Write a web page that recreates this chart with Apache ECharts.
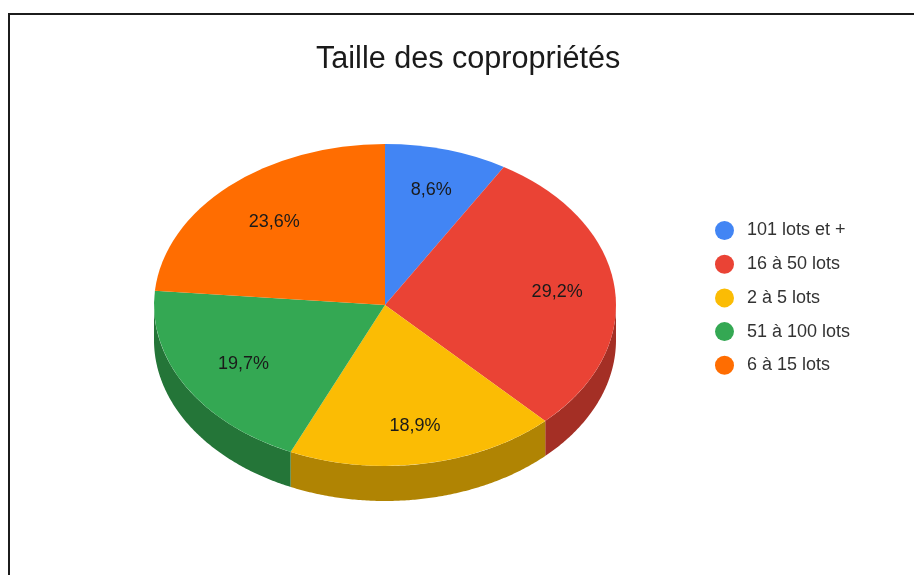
<!DOCTYPE html>
<html>
<head>
<meta charset="utf-8">
<title>Taille des copropriétés</title>
<script src="https://cdn.jsdelivr.net/npm/echarts@6/dist/echarts.min.js"></script>
<style>
  html, body { margin: 0; padding: 0; background: #fff; }
  #chart { width: 914px; height: 575px; }
</style>
</head>
<body>
<div id="chart"></div>
<script>
const categories = ['101 lots et +', '16 à 50 lots', '2 à 5 lots', '51 à 100 lots', '6 à 15 lots']
const shares = [8.6, 29.2, 18.9, 19.7, 23.6]
const topColors = ['#4285F4', '#EA4335', '#FBBC04', '#34A853', '#FF6D01']
const sideColors = ['#2e5dab', '#a42f25', '#b08403', '#247538', '#b34c01']

// pie drawn as a tilted disc: ellipse on top, wall below
const cx = 385
const cy = 305
const rx = 231
const ry = 161
const depth = 35
const labelRadius = [0.75, 0.75, 0.755, 0.71, 0.71]
const total = shares.reduce((a, b) => a + b, 0)

const toAngle = v => (v / total) * 360
const rad = d => (d * Math.PI) / 180
const rimPoint = (deg, drop) => [cx + rx * Math.sin(rad(deg)), cy + drop - ry * Math.cos(rad(deg))]

function renderSlice(params, api) {
  const i = params.seriesIndex
  const start = toAngle(shares.slice(0, i).reduce((a, b) => a + b, 0))
  const end = start + toAngle(api.value(0))
  const children = []

  // wall only shows on the front half of the disc
  const wallFrom = Math.max(start, 90)
  const wallTo = Math.min(end, 270)
  if (wallTo > wallFrom) {
    const upper = []
    const lower = []
    for (let d = wallFrom; d < wallTo; d += 0.5) {
      upper.push(rimPoint(d, 0))
      lower.unshift(rimPoint(d, depth))
    }
    upper.push(rimPoint(wallTo, 0))
    lower.unshift(rimPoint(wallTo, depth))
    children.push({
      type: 'polygon',
      shape: { points: upper.concat(lower) },
      style: { fill: sideColors[i] }
    })
  }

  children.push({
    type: 'sector',
    x: cx,
    y: cy,
    scaleY: ry / rx,
    shape: {
      cx: 0,
      cy: 0,
      r0: 0,
      r: rx,
      startAngle: rad(start - 90),
      endAngle: rad(end - 90),
      clockwise: true
    },
    style: { fill: topColors[i] }
  })

  const mid = (start + end) / 2
  children.push({
    type: 'text',
    style: {
      x: cx + labelRadius[i] * rx * Math.sin(rad(mid)),
      y: cy + 1 - labelRadius[i] * ry * Math.cos(rad(mid)),
      text: String(api.value(0)).replace('.', ',') + '%',
      align: 'center',
      verticalAlign: 'middle',
      fill: '#1a1a1a',
      font: '18px "Liberation Sans", Arial, sans-serif'
    }
  })

  return { type: 'group', children }
}

const chart = echarts.init(document.getElementById('chart'), null, { renderer: 'canvas' })
chart.setOption({
  animation: false,
  backgroundColor: '#fff',
  title: {
    text: 'Taille des copropriétés',
    left: 316,
    top: 44,
    padding: 0,
    textStyle: {
      fontFamily: '"Liberation Sans", Arial, sans-serif',
      fontSize: 30.6,
      fontWeight: 'normal',
      color: '#1a1a1a'
    }
  },
  legend: {
    orient: 'vertical',
    left: 715,
    top: 221,
    padding: 0,
    itemWidth: 19,
    itemHeight: 19,
    itemGap: 14.7,
    icon: 'circle',
    data: categories,
    selectedMode: false,
    textStyle: {
      fontFamily: '"Liberation Sans", Arial, sans-serif',
      fontSize: 18,
      color: '#333',
      padding: [2, 0, 0, 8]
    }
  },
  // frame of the screenshot
  graphic: [
    {
      type: 'polyline',
      silent: true,
      shape: { points: [[9, 575], [9, 14], [914, 14]] },
      style: { stroke: '#1c1c1c', lineWidth: 2, fill: null }
    }
  ],
  series: categories.map((name, i) => ({
    type: 'custom',
    name,
    coordinateSystem: 'none',
    silent: true,
    itemStyle: { color: topColors[i] },
    renderItem: renderSlice,
    data: [[shares[i]]]
  }))
})
</script>
</body>
</html>
